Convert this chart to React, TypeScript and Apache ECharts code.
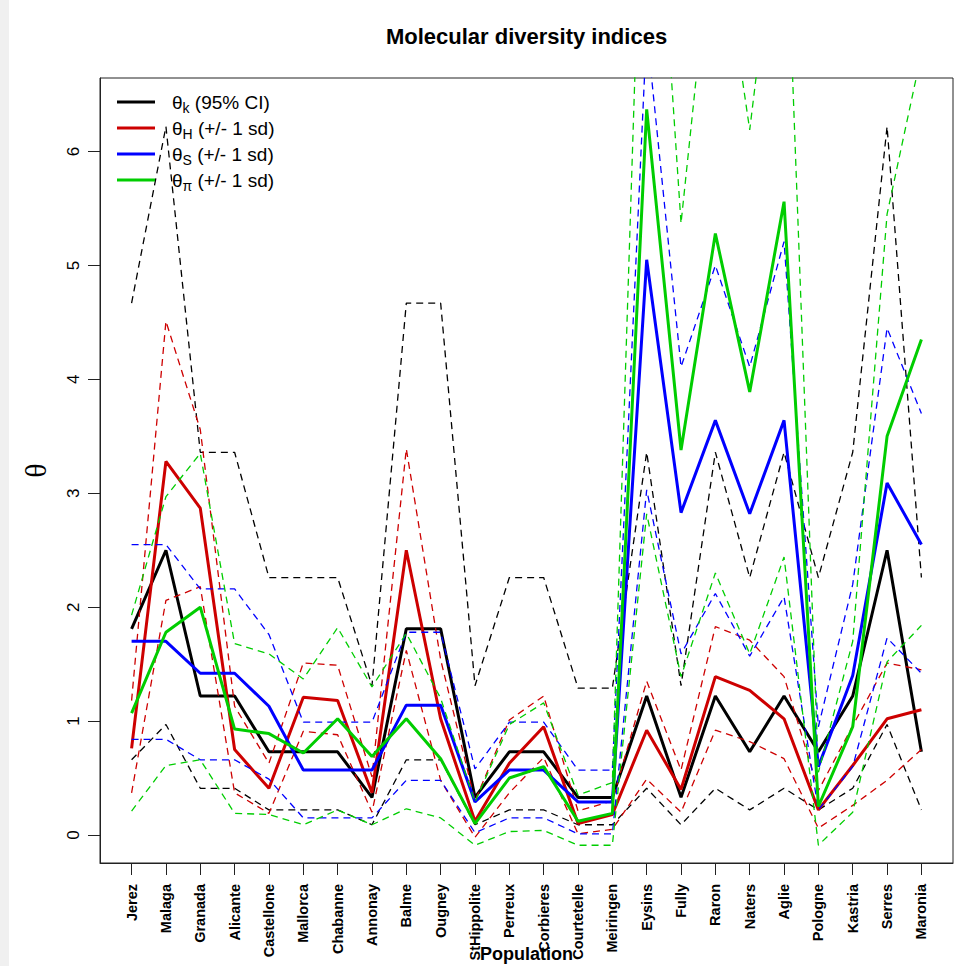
import React, { useEffect, useRef } from "react";
import * as echarts from "echarts";

const categories = ["Jerez","Malaga","Granada","Alicante","Castellone","Mallorca","Chabanne","Annonay","Balme","Ougney","StHippolite","Perreux","Corbieres","Courtetelle","Meiringen","Eysins","Fully","Raron","Naters","Aglie","Pologne","Kastria","Serres","Maronia"];

const thetaK = [1.81,2.50,1.22,1.22,0.73,0.73,0.73,0.33,1.81,1.81,0.33,0.73,0.73,0.33,0.33,1.22,0.33,1.22,0.73,1.22,0.73,1.22,2.50,0.73];
const thetaKUpper = [4.67,6.22,3.36,3.36,2.26,2.26,2.26,1.31,4.67,4.67,1.31,2.26,2.26,1.29,1.29,3.36,1.31,3.36,2.26,3.36,2.26,3.36,6.22,2.26];
const thetaKLower = [0.66,0.97,0.41,0.41,0.22,0.22,0.22,0.09,0.66,0.66,0.09,0.22,0.22,0.09,0.09,0.41,0.09,0.41,0.22,0.41,0.22,0.41,0.97,0.22];

const thetaH = [0.76,3.28,2.87,0.75,0.41,1.21,1.18,0.37,2.50,1.02,0.12,0.63,0.95,0.10,0.18,0.92,0.40,1.39,1.27,1.02,0.22,0.61,1.02,1.10];
const thetaHUpper = [1.18,4.51,3.56,1.13,0.63,1.51,1.49,0.51,3.39,1.54,0.30,1.01,1.22,0.21,0.30,1.35,0.57,1.83,1.71,1.39,0.39,0.96,1.51,1.45];
const thetaHLower = [0.37,2.06,2.18,0.37,0.19,0.91,0.88,0.20,1.62,0.48,-0.02,0.37,0.68,0.01,0.05,0.49,0.20,0.92,0.82,0.67,0.06,0.26,0.48,0.75];

const thetaS = [1.70,1.70,1.42,1.42,1.13,0.57,0.57,0.57,1.14,1.14,0.29,0.57,0.57,0.29,0.29,5.05,2.83,3.64,2.82,3.64,0.60,1.40,3.09,2.55];
const thetaSUpper = [2.55,2.55,2.16,2.16,1.76,0.99,0.99,0.99,1.78,1.78,0.58,0.99,0.99,0.57,0.57,7.07,4.11,5.00,4.11,5.21,0.95,2.20,4.45,3.70];
const thetaSLower = [0.84,0.84,0.66,0.66,0.49,0.15,0.15,0.15,0.48,0.48,0.02,0.15,0.15,0.01,0.01,3.03,1.59,2.12,1.57,2.09,0.22,0.60,1.73,1.42];

const thetaPi = [1.07,1.78,2.00,0.93,0.89,0.72,1.02,0.69,1.02,0.67,0.10,0.50,0.60,0.12,0.19,6.37,3.38,5.28,3.89,5.56,0.25,0.95,3.50,4.35];
const thetaPiUpper = [1.93,2.97,3.35,1.68,1.59,1.37,1.82,1.30,1.77,1.20,0.29,0.97,1.16,0.35,0.46,9.92,5.37,8.26,6.19,8.68,0.55,1.70,5.45,6.86];
const thetaPiLower = [0.21,0.61,0.66,0.19,0.18,0.09,0.22,0.09,0.23,0.15,-0.09,0.03,0.04,-0.09,-0.09,2.82,1.39,2.30,1.59,2.44,-0.09,0.20,1.52,1.84];

const yTicks = [0, 1, 2, 3, 4, 5, 6];
const xTicks = categories.map((_, i) => i + 1);

const FONT = "'Liberation Sans', Arial, sans-serif";
const BLACK = "#000000";
const RED = "#cd0000";
const BLUE = "#0000ff";
const GREEN = "#00cd00";

const legendNames = ["k", "H", "S", "pi"];
const legendLabels: Record<string, string> = {
  k: "{g| }{t|θ}{s|k}{t| (95% CI)}",
  H: "{g| }{t|θ}{s|H}{t| (+/- 1 sd)}",
  S: "{g| }{t|θ}{s|S}{t| (+/- 1 sd)}",
  pi: "{g| }{t|θ}{s|π}{t| (+/- 1 sd)}",
};

const xy = (vals: number[]) => vals.map((v, i) => [i + 1, v]);

function solid(name: string, vals: number[], color: string) {
  return {
    name,
    type: "line",
    data: xy(vals),
    symbol: "none",
    silent: true,
    clip: true,
    itemStyle: { color },
    lineStyle: { color, width: 3, type: "solid" },
  };
}
function dashed(name: string, vals: number[], color: string) {
  return {
    name,
    type: "line",
    data: xy(vals),
    symbol: "none",
    silent: true,
    clip: true,
    itemStyle: { color },
    lineStyle: { color, width: 1.3, type: [7, 5] },
  };
}

export default function App() {
  const ref = useRef<HTMLDivElement>(null);
  useEffect(() => {
    if (!ref.current) return;
    const chart = echarts.init(ref.current, null, { renderer: "svg" });
    chart.setOption({
      animation: false,
      backgroundColor: "#ffffff",
      title: {
        text: "Molecular diversity indices",
        left: 526.5,
        top: 25,
        textAlign: "center",
        padding: 0,
        textStyle: { fontFamily: FONT, fontSize: 22, fontWeight: "bold", color: "#000" },
      },
      graphic: [
        { type: "rect", left: 0, top: 0, shape: { width: 9, height: 966 }, style: { fill: "#f0f0f0" }, silent: true },
      ],
      legend: {
        show: true,
        orient: "vertical",
        left: 117,
        top: 89,
        padding: 0,
        itemGap: 0,
        icon: "rect",
        itemWidth: 38,
        itemHeight: 3,
        selectedMode: false,
        data: legendNames,
        formatter: (n: string) => legendLabels[n],
        textStyle: {
          fontFamily: FONT,
          color: "#000",
          rich: {
            g: { width: 12 },
            t: { fontFamily: FONT, fontSize: 19, lineHeight: 24, color: "#000" },
            s: { fontFamily: FONT, fontSize: 14, lineHeight: 12, padding: [12, 0, 0, 0], color: "#000" },
          },
        },
      },
      grid: {
        left: 100,
        right: 7,
        top: 78,
        bottom: 103,
        show: true,
        borderColor: "#222",
        borderWidth: 1,
        backgroundColor: "transparent",
        containLabel: false,
        outerBoundsMode: "none",
      },
      xAxis: {
        type: "value",
        min: 0.08,
        max: 24.92,
        name: "Population",
        nameLocation: "middle",
        nameGap: 82,
        nameMoveOverlap: false,
        nameTextStyle: { fontFamily: FONT, fontSize: 18, fontWeight: "bold", color: "#000" },
        splitLine: { show: false },
        axisLine: { show: true, onZero: false, lineStyle: { color: "#222", width: 1 } },
        axisTick: { show: true, length: 12, customValues: xTicks, lineStyle: { color: "#222", width: 1 } },
        axisLabel: {
          show: true,
          customValues: xTicks,
          rotate: 90,
          margin: 21,
          hideOverlap: false,
          fontFamily: FONT,
          fontSize: 14.5,
          fontWeight: "bold",
          color: "#000",
          formatter: (v: number) => categories[Math.round(v) - 1] || "",
        },
      },
      yAxis: {
        type: "value",
        min: -0.246,
        max: 6.646,
        name: "θ",
        nameLocation: "middle",
        nameGap: 50,
        nameRotate: 90,
        nameMoveOverlap: false,
        nameTextStyle: { fontFamily: "'Liberation Serif', 'DejaVu Serif', serif", fontSize: 30, color: "#000" },
        splitLine: { show: false },
        axisLine: { show: true, onZero: false, lineStyle: { color: "#222", width: 1 } },
        axisTick: { show: true, length: 12, customValues: yTicks, lineStyle: { color: "#222", width: 1 } },
        axisLabel: {
          show: true,
          customValues: yTicks,
          rotate: 90,
          margin: 18,
          fontFamily: FONT,
          fontSize: 17,
          color: "#000",
          formatter: (v: number) => String(Math.round(v)),
        },
      },
      series: [
        solid("k", thetaK, BLACK),
        dashed("k_upper", thetaKUpper, BLACK),
        dashed("k_lower", thetaKLower, BLACK),
        solid("H", thetaH, RED),
        dashed("H_upper", thetaHUpper, RED),
        dashed("H_lower", thetaHLower, RED),
        solid("S", thetaS, BLUE),
        dashed("S_upper", thetaSUpper, BLUE),
        dashed("S_lower", thetaSLower, BLUE),
        solid("pi", thetaPi, GREEN),
        dashed("pi_upper", thetaPiUpper, GREEN),
        dashed("pi_lower", thetaPiLower, GREEN),
      ],
    });
    return () => chart.dispose();
  }, []);
  return (
    <div
      ref={ref}
      style={{ position: "absolute", left: 0, top: 0, width: 960, height: 966 }}
    />
  );
}
